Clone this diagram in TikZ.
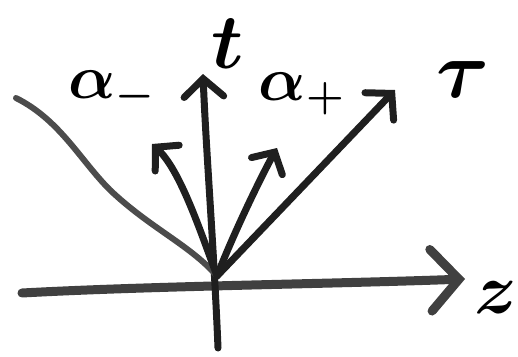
\documentclass[tikz,border=0pt]{standalone}
\usetikzlibrary{arrows.meta}
\begin{document}
\begin{tikzpicture}[x=1pt, y=-1pt,
    stroke/.style={line width=7pt, line cap=round, line join=round, black!88},
    axis/.style={stroke, line width=9pt, black!75},
    tip/.style={-{Straight Barb[length=#1, width=2.2*#1, line cap=round]}},
    lab/.style={inner sep=0pt, scale=3, font=\huge\boldmath}]
  %% pixel frame of the sketch, y grows downwards
  \useasboundingbox (0,0) rectangle (518,356);

  %% where the lines meet and where they end
  \coordinate (O)    at (217,276);
  \coordinate (zL)   at (22,293);
  \coordinate (zR)   at (465,279);
  \coordinate (tB)   at (218,348);
  \coordinate (tT)   at (203,74);
  \coordinate (cL)   at (16,98);
  \coordinate (amE)  at (152,144);
  \coordinate (apE)  at (277,148);
  \coordinate (tauE) at (395,90);

  %% labels
  \node[lab] (alm) at (112,92)  {$\alpha_-$};
  \node[lab, scale=1.25] (tl) at (228,44) {$t$};
  \node[lab] (alp) at (302,94)  {$\alpha_+$};
  \node[lab, scale=1.3] (tau) at (463,80) {$\tau$};
  \node[lab, scale=1.15] (zl) at (496,298) {$z$};

  %% axes
  \draw[axis, tip=28pt] (zL) .. controls (150,286) and (330,284) .. (zR);
  \draw[stroke, tip=18pt] (tB) .. controls (214,250) and (206,150) .. (tT);

  %% light cone edge on the left
  \draw[stroke, line width=6pt, black!70]
    (cL) .. controls (60,120) and (80,160) .. (110,190)
         .. controls (150,228) and (190,245) .. (O);

  %% the three directions
  \draw[stroke, tip=16pt] (O) .. controls (200,230) and (180,170) .. (amE);
  \draw[stroke, tip=16pt] (O) .. controls (235,230) and (262,175) .. (apE);
  \draw[stroke, tip=18pt] (O) -- (tauE);
\end{tikzpicture}
\end{document}
